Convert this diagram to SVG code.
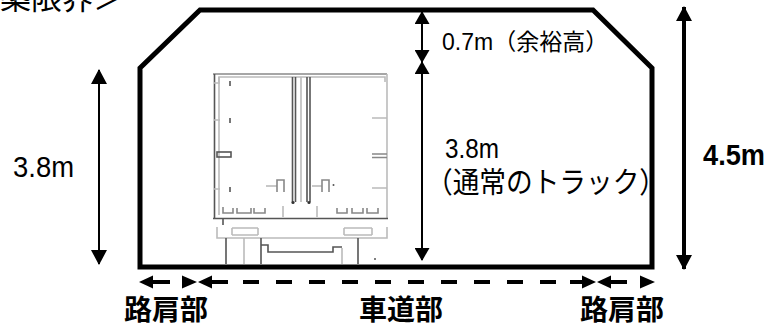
<svg xmlns="http://www.w3.org/2000/svg" width="770" height="327" viewBox="0 0 770 327">
<style>
.lbl{font-family:"Liberation Sans","Noto Sans CJK JP",sans-serif;fill:#000}
.jp{font-family:"Noto Sans CJK JP","Liberation Sans",sans-serif;fill:#000}
.bold{font-weight:bold}
.dk{fill:none;stroke:#555;stroke-width:1.6}
.lt{fill:none;stroke:#bbb;stroke-width:1.6}
.md{fill:none;stroke:#888;stroke-width:1.6}
.thin{stroke:#000;stroke-width:2;fill:none}
.thick{stroke:#000;stroke-width:4;fill:none}
.head{fill:#000}
</style>
<defs>
<marker id="ah" viewBox="0 0 15 16" markerWidth="15" markerHeight="16" refX="14" refY="8" orient="auto-start-reverse" markerUnits="userSpaceOnUse">
<path d="M0,0 L15,8 L0,16 z" fill="#000"/>
</marker>
<marker id="ah2" viewBox="0 0 13 15" markerWidth="13" markerHeight="15" refX="12" refY="7.5" orient="auto-start-reverse" markerUnits="userSpaceOnUse">
<path d="M0,0 L13,7.5 L0,15 z" fill="#000"/>
</marker>
</defs>

<g id="title">
<text class="jp" x="-31" y="9" font-size="31">建築限界＞</text>
</g>

<g id="truck">
<path class="md" d="M213,74 H387"/>
<path class="dk" d="M214.5,74 V218"/>
<path class="lt" d="M219,82 V77 H385 V82"/>
<path class="lt" d="M219,77 V215"/>
<path class="lt" d="M387,74 V218"/>
<path class="dk" d="M213,218.5 H388"/>
<path class="dk" d="M292.5,77 V202 M295.5,77 V202 M307,77 V202 M310,77 V202"/>
<path class="lt" d="M301,77 V202"/>
<circle cx="293" cy="202.5" r="1.6" fill="#333"/>
<circle cx="309" cy="202.5" r="1.6" fill="#333"/>
<path class="dk" d="M230,81 V86 M230,118 V123 M230,187 V192"/>
<path class="lt" d="M214,83 H220 M214,120 H220 M214,189 H220"/>
<rect class="dk" x="217" y="152" width="14" height="5"/>
<path class="lt" d="M372,118 H387 M372,188 H387"/>
<path class="md" d="M372,154 H387 M372,157.5 H387"/>
<path class="lt" d="M266,186 H277"/>
<path class="md" d="M277,192 V180 H284 V192"/>
<path class="lt" d="M312,186 H322"/>
<path class="md" d="M322,192 V180 H329 V192"/>
<circle cx="333.5" cy="185" r="1" fill="#555"/>
<path class="md" d="M223,207 V213 H233 V208 M237,208 V213 H251 V208 M254,208 V213 H265 V208"/>
<path class="lt" d="M283,206 V217 M317,206 V217"/>
<path class="md" d="M337,208 V213 H347 V208 M352,208 V213 H363 V208 M367,208 V213 H378 V208"/>
<path class="dk" d="M223,218 V225"/>
<path class="lt" d="M217,227 V238 H387 V227"/>
<path class="lt" d="M232,228 H258 M232,235 H258 M232,228 V235 M258,228 V235"/>
<path class="lt" d="M344,228 H372 M344,235 H372 M344,228 V235 M372,228 V235"/>
<path class="dk" d="M226,238 V264 M261,238 V264 M358,238 V264"/>
<path class="lt" d="M244,238 V264 M342,248 V264"/>
<path class="dk" d="M261,245 H268 V252 H333 V247 H342"/>
<circle cx="375" cy="259" r="1" fill="#555"/>
</g>

<g id="gauge">
<polygon points="140,68 200,10 593,10 652,68 652,267 140,267" fill="none" stroke="#000" stroke-width="5"/>
</g>

<g id="connectors">
<line class="thin" x1="99" y1="70" x2="99" y2="264" marker-start="url(#ah)" marker-end="url(#ah)"/>
<line class="thin" x1="422" y1="12" x2="422" y2="62" marker-start="url(#ah2)" marker-end="url(#ah2)"/>
<line class="thin" x1="422" y1="62" x2="422" y2="260" marker-start="url(#ah2)" marker-end="url(#ah2)"/>
<line class="thick" x1="684" y1="7" x2="684" y2="269" marker-start="url(#ah)" marker-end="url(#ah)"/>
<path class="thick" d="M152,282 H170 M211,282 H228 M243,282 H259 M276,282 H292 M309,282 H325 M342,282 H358 M375,282 H391 M408,282 H424 M441,282 H457 M474,282 H490 M507,282 H523 M540,282 H556 M570,282 H583 M610,282 H627"/>
<polygon class="head" points="139,282 153,275.5 153,288.5"/>
<polygon class="head" points="182,275.5 197,282 182,288.5"/>
<polygon class="head" points="198,282 212,275.5 212,288.5"/>
<polygon class="head" points="582,275.5 596,282 582,288.5"/>
<polygon class="head" points="597,282 611,275.5 611,288.5"/>
<polygon class="head" points="640,275.5 655,282 640,288.5"/>
</g>

<g id="label-left-38">
<text class="lbl" x="13" y="177" font-size="30" textLength="61" lengthAdjust="spacingAndGlyphs">3.8m</text>
</g>
<g id="label-07">
<text class="lbl" x="442" y="50" font-size="23">0.7m（余裕高）</text>
</g>
<g id="label-truck">
<text class="lbl" font-size="28"><tspan x="445" y="158" textLength="54" lengthAdjust="spacingAndGlyphs">3.8m</tspan><tspan class="jp" x="426" y="193" font-size="29" textLength="240" lengthAdjust="spacingAndGlyphs">（通常のトラック）</tspan></text>
</g>
<g id="label-45">
<text class="lbl bold" x="703" y="165" font-size="30" textLength="62" lengthAdjust="spacingAndGlyphs">4.5m</text>
</g>
<g id="label-bottom">
<text class="jp bold" x="166" y="320" font-size="28" text-anchor="middle">路肩部</text>
<text class="jp bold" x="401" y="320" font-size="28" text-anchor="middle">車道部</text>
<text class="jp bold" x="622" y="320" font-size="28" text-anchor="middle">路肩部</text>
</g>
</svg>
